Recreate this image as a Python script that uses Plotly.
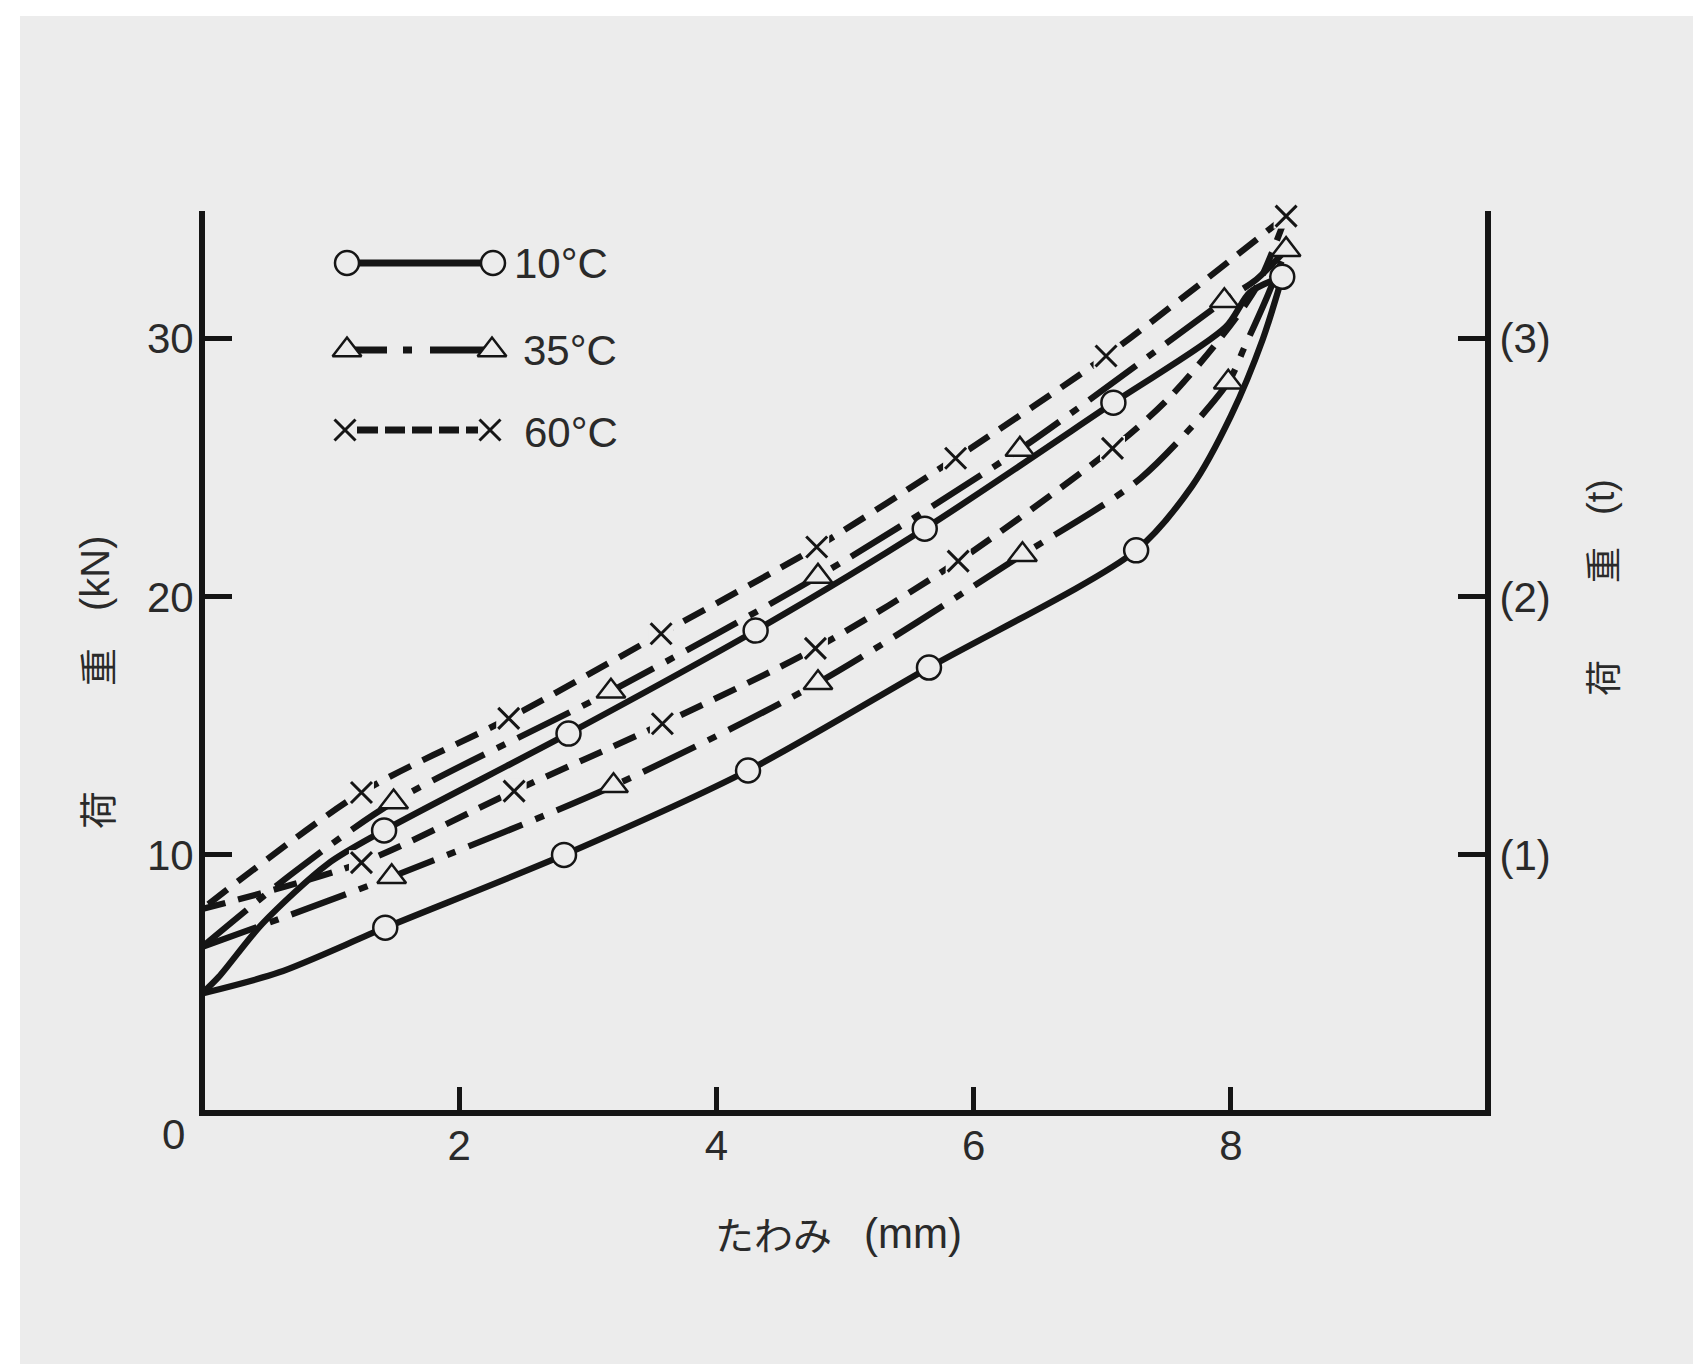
import plotly.graph_objects as go

# ---------------- data ----------------
# deflection (mm) / load (kN)
# 10 °C loop
c10_load_x = [0.0, 0.6, 1.425, 2.815, 4.246, 5.653, 7.264, 7.7, 8.0, 8.25, 8.40]
c10_load_y = [4.63, 5.45, 7.18, 10.0, 13.27, 17.26, 21.8, 24.3, 27.0, 30.0, 32.4]
c10_unld_x = [8.40, 8.15, 7.96, 7.087, 5.62, 4.305, 2.85, 1.416, 0.98, 0.47, 0.13, 0.0]
c10_unld_y = [32.4, 31.8, 30.45, 27.52, 22.64, 18.69, 14.7, 10.95, 9.66, 7.34, 5.27, 4.63]
m10_x = [1.425, 2.815, 4.246, 5.653, 7.264, 8.40, 7.087, 5.62, 4.305, 2.85, 1.416]
m10_y = [7.18, 10.0, 13.27, 17.26, 21.8, 32.4, 27.52, 22.64, 18.69, 14.7, 10.95]

# 35 °C loop
c35_load_x = [0.0, 1.475, 3.20, 4.79, 6.38, 7.3, 7.98, 8.1, 8.28, 8.43]
c35_load_y = [6.43, 9.15, 12.68, 16.67, 21.63, 24.6, 28.31, 29.6, 31.6, 33.45]
c35_unld_x = [8.43, 8.2, 7.95, 6.36, 4.79, 3.18, 1.49, 0.72, 0.0]
c35_unld_y = [33.45, 32.3, 31.47, 25.71, 20.79, 16.34, 12.05, 9.35, 6.43]
m35_x = [1.475, 3.20, 4.79, 6.38, 7.98, 8.43, 7.95, 6.36, 4.79, 3.18, 1.49]
m35_y = [9.15, 12.68, 16.67, 21.63, 28.31, 33.45, 31.47, 25.71, 20.79, 16.34, 12.05]

# 60 °C loop
c60_load_x = [0.0, 1.24, 2.427, 3.58, 4.77, 5.88, 7.08, 7.5, 7.9, 8.2, 8.43]
c60_load_y = [7.9, 9.7, 12.47, 15.08, 18.0, 21.38, 25.75, 27.6, 29.9, 32.0, 34.75]
c60_unld_x = [8.43, 7.03, 5.86, 4.78, 3.57, 2.385, 1.24, 0.0]
c60_unld_y = [34.75, 29.33, 25.37, 21.93, 18.57, 15.29, 12.42, 7.9]
m60_x = [1.24, 2.427, 3.58, 4.77, 5.88, 7.08, 8.43, 7.03, 5.86, 4.78, 3.57, 2.385, 1.24]
m60_y = [9.7, 12.47, 15.08, 18.0, 21.38, 25.75, 34.75, 29.33, 25.37, 21.93, 18.57, 15.29, 12.42]

x_ticks = [2, 4, 6, 8]
y_ticks = [10, 20, 30]
t_ticks = [1, 2, 3]
t_ticktext = ["(1)", "(2)", "(3)"]
legend_labels = ["10°C", "35°C", "60°C"]

# ---------------- layout geometry (page pixels) ----------------
W, H = 1701, 1364
OFF = 8                      # page offset of the figure (body margin)
X0_PX, X_PER = 202.0, 128.6   # page px of x=0 axis line, px per mm
Y0_PX, Y_PER = 1113.0, 25.81  # page px of y=0 axis line, px per kN
PL, PR, PT, PB = 205, 1485, 211, 1110   # plot-area edges on the page
L, R, T, B = PL - OFF, W - (PR - OFF), PT - OFF, H - (PB - OFF)
PW, PH = PR - PL, PB - PT

x_range = [(PL - X0_PX) / X_PER, (PR - X0_PX) / X_PER]
y_range = [(Y0_PX - PB) / Y_PER, (Y0_PX - PT) / Y_PER]
t_range = [v / 10.0 for v in y_range]

BG = "#ececec"
INK = "#151515"
TXT = "#2a2a2a"
NUM_FONT = "Liberation Sans, Arial, sans-serif"
JP_FONT = "Noto Sans CJK JP, sans-serif"


def px_x(px):
    return (px - PL) / PW


def px_y(py):
    return (PB - py) / PH


LW = 6.3
DASH35 = "58px,14px,9px,14px"
DASH60 = "24px,13px"

fig = go.Figure()


def add_curve(x, y, dash):
    fig.add_trace(go.Scatter(x=x, y=y, mode="lines",
                             line=dict(color=INK, width=LW, dash=dash, shape="spline", smoothing=0.8),
                             showlegend=False, hoverinfo="skip"))


add_curve(c10_load_x, c10_load_y, "solid")
add_curve(c10_unld_x, c10_unld_y, "solid")
add_curve(c35_load_x, c35_load_y, DASH35)
add_curve(c35_unld_x, c35_unld_y, DASH35)
add_curve(c60_load_x, c60_load_y, DASH60)
add_curve(c60_unld_x, c60_unld_y, DASH60)

# markers
fig.add_trace(go.Scatter(x=m10_x, y=m10_y, mode="markers", cliponaxis=False,
                         marker=dict(symbol="circle", size=24, color=BG, line=dict(color=INK, width=2.5)),
                         showlegend=False, hoverinfo="skip"))
fig.add_trace(go.Scatter(x=m35_x, y=m35_y, mode="markers", cliponaxis=False,
                         marker=dict(symbol="triangle-up", size=25, color=BG, line=dict(color=INK, width=2.5)),
                         showlegend=False, hoverinfo="skip"))
fig.add_trace(go.Scatter(x=m60_x, y=m60_y, mode="markers", cliponaxis=False,
                         marker=dict(symbol="square", size=25, color=BG, line=dict(width=0)),
                         showlegend=False, hoverinfo="skip"))
fig.add_trace(go.Scatter(x=m60_x, y=m60_y, mode="markers", cliponaxis=False,
                         marker=dict(symbol="x-thin", size=21, color=INK, line=dict(color=INK, width=3)),
                         showlegend=False, hoverinfo="skip"))

# right axis (t) carrier
fig.add_trace(go.Scatter(x=[None], y=[None], yaxis="y3", mode="markers",
                         showlegend=False, hoverinfo="skip"))

# ---------------- hand-drawn style legend (overlay axes 0..1 == plot area) ----------------
leg_rows = [
    dict(x=[px_x(347), px_x(493)], y=[px_y(263)] * 2, dash="solid", sym="circle", size=24),
    dict(x=[px_x(347), px_x(492)], y=[px_y(350)] * 2, dash="40px,16px,9px,18px,90px",
         sym="triangle-up", size=25),
    dict(x=[px_x(345), px_x(490)], y=[px_y(430)] * 2,
         dash="33px,7px,20px,7px,20px,7px,20px,7px,20px,7px,60px", sym="x-thin", size=21),
]
for row in leg_rows:
    fig.add_trace(go.Scatter(x=row["x"], y=row["y"], xaxis="x2", yaxis="y2", mode="lines",
                             line=dict(color=INK, width=LW + 0.5, dash=row["dash"]),
                             showlegend=False, hoverinfo="skip"))
    if row["sym"] == "x-thin":
        fig.add_trace(go.Scatter(x=row["x"], y=row["y"], xaxis="x2", yaxis="y2", mode="markers",
                                 marker=dict(symbol="square", size=24, color=BG, line=dict(width=0)),
                                 showlegend=False, hoverinfo="skip"))
        fig.add_trace(go.Scatter(x=row["x"], y=row["y"], xaxis="x2", yaxis="y2", mode="markers",
                                 marker=dict(symbol="x-thin", size=row["size"], color=INK,
                                             line=dict(color=INK, width=3)),
                                 showlegend=False, hoverinfo="skip"))
    else:
        fig.add_trace(go.Scatter(x=row["x"], y=row["y"], xaxis="x2", yaxis="y2", mode="markers",
                                 marker=dict(symbol=row["sym"], size=row["size"], color=BG,
                                             line=dict(color=INK, width=2.5)),
                                 showlegend=False, hoverinfo="skip"))

annotations = []
leg_text_pos = [(512, 263), (521, 350), (522, 433)]
for lab, (lx, ly) in zip(legend_labels, leg_text_pos):
    annotations.append(dict(x=px_x(lx), y=px_y(ly), xref="paper", yref="paper", text=lab,
                            showarrow=False, xanchor="left", yanchor="middle",
                            font=dict(family=NUM_FONT, size=42, color=TXT)))

# corner zero
annotations.append(dict(x=px_x(173), y=px_y(1134), xref="paper", yref="paper", text="0",
                        showarrow=False, xanchor="center", yanchor="middle",
                        font=dict(family=NUM_FONT, size=42, color=TXT)))

# axis titles
left_title = [("荷", 810, JP_FONT, 38), ("重", 667, JP_FONT, 38), ("(kN)", 573, NUM_FONT, 40)]
for txt, yy, fam, sz in left_title:
    annotations.append(dict(x=px_x(95), y=px_y(yy), xref="paper", yref="paper", text=txt,
                            showarrow=False, textangle=-90, xanchor="center", yanchor="middle",
                            font=dict(family=fam, size=sz, color=TXT)))
right_title = [("荷", 678, JP_FONT, 36), ("重", 565, JP_FONT, 36), ("(t)", 497, NUM_FONT, 38)]
for txt, yy, fam, sz in right_title:
    annotations.append(dict(x=px_x(1601), y=px_y(yy), xref="paper", yref="paper", text=txt,
                            showarrow=False, textangle=-90, xanchor="center", yanchor="middle",
                            font=dict(family=fam, size=sz, color=TXT)))
annotations.append(dict(x=px_x(773), y=px_y(1233), xref="paper", yref="paper", text="たわみ",
                        showarrow=False, xanchor="center", yanchor="middle",
                        font=dict(family=JP_FONT, size=39, color=TXT)))
annotations.append(dict(x=px_x(913), y=px_y(1233), xref="paper", yref="paper", text="(mm)",
                        showarrow=False, xanchor="center", yanchor="middle",
                        font=dict(family=NUM_FONT, size=42, color=TXT)))

shapes = [
    dict(type="rect", xref="paper", yref="paper", x0=px_x(20), x1=px_x(W + 20),
         y0=px_y(H + 20), y1=px_y(16), fillcolor=BG, line=dict(width=0), layer="below"),
]

axis_common = dict(showgrid=False, zeroline=False, showline=True, linecolor=INK, linewidth=6,
                   ticks="inside", tickcolor=INK, tickwidth=4.5,
                   tickfont=dict(family=NUM_FONT, size=42, color=TXT))

fig.update_layout(
    width=W, height=H,
    margin=dict(l=L, r=R, t=T, b=B, pad=0),
    paper_bgcolor="white", plot_bgcolor="rgba(0,0,0,0)",
    showlegend=False,
    xaxis=dict(range=x_range, tickvals=x_ticks, ticklen=23, ticklabelstandoff=-6, **axis_common),
    yaxis=dict(range=y_range, tickvals=y_ticks, ticklen=27, ticklabelstandoff=-3, **axis_common),
    yaxis3=dict(range=t_range, tickvals=t_ticks, ticktext=t_ticktext, ticklen=27,
                overlaying="y", side="right", anchor="x", **axis_common),
    xaxis2=dict(range=[0, 1], overlaying="x", visible=False, anchor="y2"),
    yaxis2=dict(range=[0, 1], overlaying="y", visible=False, anchor="x2"),
    annotations=annotations,
    shapes=shapes,
)

fig.write_html("out.html")
